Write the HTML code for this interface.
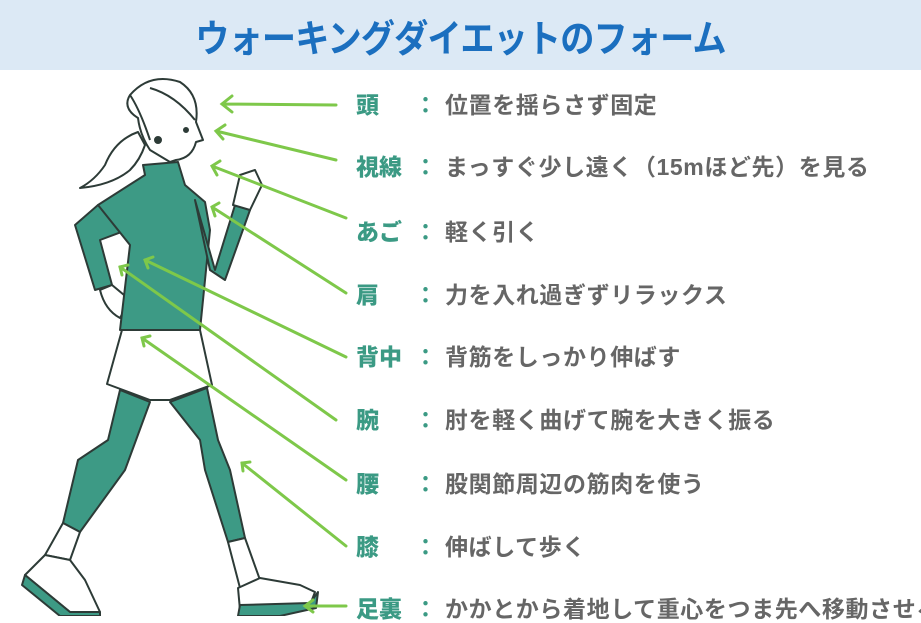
<!DOCTYPE html>
<html><head><meta charset="utf-8"><style>
body{margin:0;width:921px;height:616px;overflow:hidden;background:#fff;font-family:"Liberation Sans","Noto Sans CJK JP",sans-serif;position:relative}
.hd{position:absolute;left:0;top:0;width:921px;height:70px;background:#dce9f5}
.hd div{position:absolute;left:0;width:921px;top:8px;text-align:center;font-size:38px;font-weight:bold;color:#1b6fbf;letter-spacing:-1px;transform:scaleX(0.9)}
.r{position:absolute;left:0;width:921px;height:28px;font-size:23px;font-weight:bold;white-space:nowrap;line-height:28px}
.r b{position:absolute;left:356px;color:#3b9a84}
.r i{position:absolute;left:414px;color:#3b9a84;font-style:normal}
.r span{position:absolute;left:445px;color:#666;letter-spacing:0.6px}
svg{position:absolute;left:0;top:0}
</style></head><body>
<div class="hd"><div>ウォーキングダイエットのフォーム</div></div>
<svg width="921" height="616" viewBox="0 0 921 616">
<g stroke="#2d3b37" stroke-width="2" stroke-linejoin="round">
<path d="M130,95 Q150,72 180,82 Q200,95 196,122 L203,140 L196,142 Q192,158 176,160 L170,162 L150,150 Q140,135 138,118 Q122,108 130,95Z" fill="#fff"/>
<path d="M138,132 Q115,140 105,165 Q95,180 80,188 Q112,185 130,170 Q140,160 145,145Z" fill="#fff"/>
<path d="M130,95 Q140,110 150,140 M150,88 Q175,95 195,120" fill="none"/>
<circle cx="186" cy="130" r="2" fill="#2d3b37"/>
<circle cx="158" cy="140" r="3" fill="#2d3b37"/>
<path d="M98,205 L75,225 L95,290 L112,285 L100,240 L140,225Z" fill="#3d9a85"/>
<path d="M100,290 L112,285 L130,300 L120,318 Q105,310 100,290Z" fill="#fff"/>
<path d="M143,165 L178,162 L185,185 L205,202 L210,230 L200,330 L120,330 L130,245 L98,205 L145,175Z" fill="#3d9a85"/>
<path d="M195,200 L215,270 L235,205 L250,210 L225,280 L210,270Z" fill="#3d9a85"/>
<path d="M233,205 L240,175 L255,170 L262,185 L250,210Z" fill="#fff"/>
<path d="M122,330 L200,330 L212,385 L170,400 L150,400 L107,384Z" fill="#fff"/>
<path d="M120,390 L150,402 L125,470 L80,532 L63,523 L78,460 L108,440Z" fill="#3d9a85"/>
<path d="M170,402 L207,388 L218,440 L230,470 L245,538 L228,542 L205,470 L200,440Z" fill="#3d9a85"/>
<path d="M63,523 L80,532 L70,560 L45,555Z" fill="#fff"/>
<path d="M228,542 L245,538 L260,580 L240,588Z" fill="#fff"/>
<path d="M45,555 L70,560 L85,580 L100,612 L70,612 L25,575Z" fill="#fff"/>
<path d="M25,575 L70,612 L100,612 L100,616 L60,616 L22,585Z" fill="#3d9a85"/>
<path d="M238,588 L260,578 L300,585 L315,592 L310,605 L240,610Z" fill="#fff"/>
<path d="M240,605 L310,603 L318,592 L316,608 L280,616 L238,616Z" fill="#3d9a85"/>
</g>
<g stroke="#7ec84a" stroke-width="3" fill="none" stroke-linecap="round">
<path d="M336,105 L222,104 M232,96 L222,104 L232,112"/>
<path d="M336,160 L216,131 M225,125 L216,131 L223,139"/>
<path d="M346,218 L212,166 M220,161 L212,166 L217,175"/>
<path d="M346,293 L212,207 M219,203 L212,207 L215,216"/>
<path d="M346,357 L145,260 M153,257 L145,260 L148,268"/>
<path d="M336,420 L120,267 M128,265 L120,267 L122,275"/>
<path d="M346,480 L142,338 M150,336 L142,338 L144,346"/>
<path d="M346,546 L242,463 M250,462 L242,463 L243,471"/>
<path d="M346,606 L305,606 M313,600 L305,606 L313,612"/>
</g>
</svg>
<div class="r" style="top:91px"><b>頭</b><i>：</i><span>位置を揺らさず固定</span></div>
<div class="r" style="top:153px"><b>視線</b><i>：</i><span>まっすぐ少し遠く（15mほど先）を見る</span></div>
<div class="r" style="top:218px"><b>あご</b><i>：</i><span>軽く引く</span></div>
<div class="r" style="top:281px"><b>肩</b><i>：</i><span>力を入れ過ぎずリラックス</span></div>
<div class="r" style="top:343px"><b>背中</b><i>：</i><span>背筋をしっかり伸ばす</span></div>
<div class="r" style="top:406px"><b>腕</b><i>：</i><span>肘を軽く曲げて腕を大きく振る</span></div>
<div class="r" style="top:470px"><b>腰</b><i>：</i><span>股関節周辺の筋肉を使う</span></div>
<div class="r" style="top:533px"><b>膝</b><i>：</i><span>伸ばして歩く</span></div>
<div class="r" style="top:595px"><b>足裏</b><i>：</i><span>かかとから着地して重心をつま先へ移動させる</span></div>
</body></html>
